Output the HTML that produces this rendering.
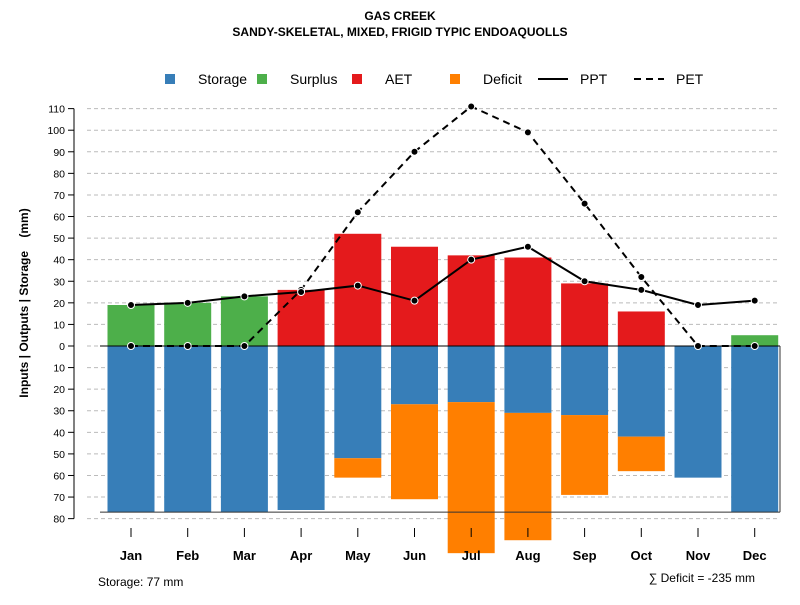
<!DOCTYPE html>
<html><head><meta charset="utf-8"><style>
body{margin:0;background:#fff}
svg text{font-family:"Liberation Sans",sans-serif}
</style></head><body>
<svg id="c" width="800" height="600"></svg>
<script>
const months=["Jan","Feb","Mar","Apr","May","Jun","Jul","Aug","Sep","Oct","Nov","Dec"];
const surplus=[19,20,23,0,0,0,0,0,0,0,0,5];
const aet=[0,0,0,26,52,46,42,41,29,16,0,0];
const storage=[77,77,77,76,52,27,26,31,32,42,61,77];
const deficit=[0,0,0,0,9,44,70,59,37,16,0,0];
const ppt=[19,20,23,25,28,21,40,46,30,26,19,21];
const pet=[0,0,0,26,62,90,111,99,66,32,0,0];
const yTicks=[110,100,90,80,70,60,50,40,30,20,10,0,-10,-20,-30,-40,-50,-60,-70,-80];
const svg=document.getElementById('c');
const NS='http://www.w3.org/2000/svg';
function y(v){return 346-v*2.158;}
function x(i){return 131+i*56.7;}
const bw=47;
function mk(t,a,txt){const e=document.createElementNS(NS,t);for(const k in a)e.setAttribute(k,a[k]);if(txt!==undefined)e.textContent=txt;svg.appendChild(e);return e;}
let e=mk('text',{x:400,y:20,'text-anchor':'middle','font-size':12,'font-weight':'bold'},'GAS CREEK');

e=mk('text',{x:400,y:36,'text-anchor':'middle','font-size':12,'font-weight':'bold'},'SANDY-SKELETAL, MIXED, FRIGID TYPIC ENDOAQUOLLS');

yTicks.forEach(t=>{
 e=mk('line',{x1:87,x2:780,y1:y(t),y2:y(t),stroke:'#bbb','stroke-dasharray':'4,3'});
 
 e=mk('line',{x1:68,x2:74,y1:y(t),y2:y(t),stroke:'#000'});
 
 e=mk('text',{x:65,y:y(t)+4,'text-anchor':'end','font-size':10.5},String(Math.abs(t)));
 
});
e=mk('line',{x1:74,x2:74,y1:y(110),y2:y(-80),stroke:'#000'});

e=mk('text',{x:28,y:303,'text-anchor':'middle','font-size':12,'font-weight':'bold',style:'white-space:pre',transform:'rotate(-90 28 303)'},'Inputs | Outputs | Storage    (mm)');

months.forEach((m,i)=>{
 const l=x(i)-bw/2;
 if(surplus[i]>0){e=mk('rect',{x:l,y:y(surplus[i]),width:bw,height:y(0)-y(surplus[i]),fill:'#4DAF4A'});}
 if(aet[i]>0){e=mk('rect',{x:l,y:y(aet[i]),width:bw,height:y(0)-y(aet[i]),fill:'#E41A1C'});}
 e=mk('rect',{x:l,y:y(0),width:bw,height:y(-storage[i])-y(0),fill:'#377EB8'});
 if(deficit[i]>0){e=mk('rect',{x:l,y:y(-storage[i]),width:bw,height:y(-storage[i]-deficit[i])-y(-storage[i]),fill:'#FF7F00'});}
 e=mk('line',{x1:x(i),x2:x(i),y1:528,y2:537,stroke:'#000'});
 e=mk('text',{x:x(i),y:560,'text-anchor':'middle','font-size':13,'font-weight':'bold'},m);
});
const sMax=Math.max(...storage);
e=mk('line',{x1:100,x2:780,y1:y(0),y2:y(0),stroke:'#000'});
e=mk('line',{x1:100,x2:780,y1:y(-sMax),y2:y(-sMax),stroke:'#333'});
e=mk('line',{x1:780,x2:780,y1:y(0),y2:y(-sMax),stroke:'#333'});
function path(arr){return arr.map((v,i)=>(i?'L':'M')+x(i)+','+y(v)).join(' ');}
e=mk('path',{d:path(pet),fill:'none',stroke:'#000','stroke-width':2,'stroke-dasharray':'7,5'});
e=mk('path',{d:path(ppt),fill:'none',stroke:'#000','stroke-width':2});
[pet,ppt].forEach((arr,k)=>arr.forEach((v,i)=>{e=mk('circle',{cx:x(i),cy:y(v),r:3.5,fill:'#000',stroke:'#fff','stroke-width':1});}));
const leg=[['Storage','#377EB8',170],['Surplus','#4DAF4A',262],['AET','#E41A1C',357],['Deficit','#FF7F00',455]];
leg.forEach(l=>{
 e=mk('rect',{x:l[2]-5,y:74,width:10,height:10,fill:l[1]});
 e=mk('text',{x:l[2]+28,y:84,'font-size':14},l[0]);
});
e=mk('line',{x1:538,x2:568,y1:79,y2:79,stroke:'#000','stroke-width':2});
e=mk('text',{x:580,y:84,'font-size':14},'PPT');
e=mk('line',{x1:634,x2:664,y1:79,y2:79,stroke:'#000','stroke-width':2,'stroke-dasharray':'7,5'});
e=mk('text',{x:676,y:84,'font-size':14},'PET');
e=mk('text',{x:98,y:586,'font-size':12},'Storage: '+sMax+' mm');
const tot=deficit.reduce((a,b)=>a+b,0);
e=mk('text',{x:755,y:582,'text-anchor':'end','font-size':12},'∑ Deficit = -'+tot+' mm');
</script>
</body></html>
